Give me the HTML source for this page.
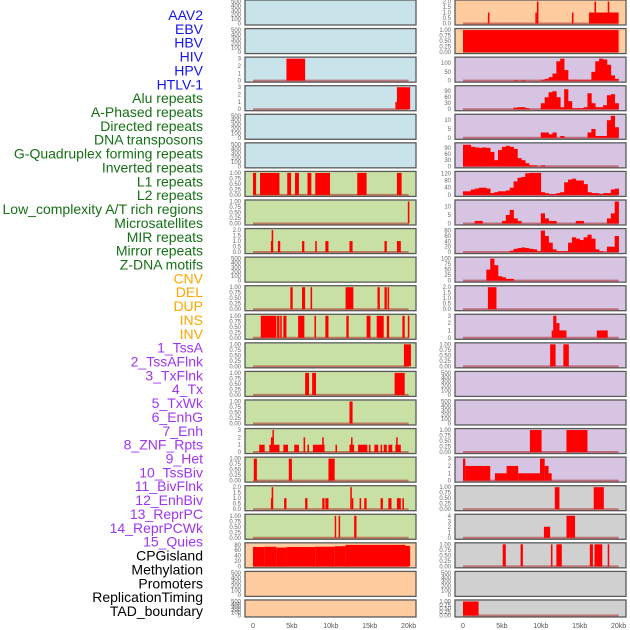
<!DOCTYPE html>
<html><head><meta charset="utf-8"><style>
html,body{margin:0;padding:0;background:#fff;width:630px;height:630px;overflow:hidden}
svg{display:block}
</style></head><body>
<svg id="chart" width="630" height="630" font-family="Liberation Sans, sans-serif"></svg>
<script>
const trackLabels=["AAV2","EBV","HBV","HIV","HPV","HTLV-1","Alu repeats","A-Phased repeats","Directed repeats","DNA transposons","G-Quadruplex forming repeats","Inverted repeats","L1 repeats","L2 repeats","Low_complexity A/T rich regions","Microsatellites","MIR repeats","Mirror repeats","Z-DNA motifs","CNV","DEL","DUP","INS","INV","1_TssA","2_TssAFlnk","3_TxFlnk","4_Tx","5_TxWk","6_EnhG","7_Enh","8_ZNF_Rpts","9_Het","10_TssBiv","11_BivFlnk","12_EnhBiv","13_ReprPC","14_ReprPCWk","15_Quies","CPGisland","Methylation","Promoters","ReplicationTiming","TAD_boundary"];
const labelGroups=[6,13,5,15,5];
const groupColors=["#1515ee","#157015","#ffa500","#a035f0","#000"];
const xTicks=[0,5,10,15,20];
const xTickLabels=["0","5kb","10kb","15kb","20kb"];
const T500=["0","100","200","300","400","500"];
const T1=["0.00","0.25","0.50","0.75","1.00"];
const T2=["0.0","0.5","1.0","1.5","2.0"];
const T3=["0","1","2","3"];
// left column
const leftBg=["b","b","b","b","b","b","g","g","g","g","g","g","g","g","g","g","g","g","g","o","o","o"];
const leftMax=[500,500,3,3,500,500,1,1,2,500,1,1,1,1,1,3,1,2,1,82,500,500];
const leftTicks=[T500,T500,T3,T3,T500,T500,T1,T1,T2,T500,T1,T1,T1,T1,T1,T3,T1,T2,T1,["0","20","40","60","80"],T500,T500];
const leftSegs=[[],[],[[4.3,6.7,3]],[[18.3,18.5,1],[18.5,20.2,3]],[],[],
[[0,0.4,1],[0.9,3.4,1],[4.4,4.9,1],[5.4,5.9,1],[7.0,7.5,1],[8.0,9.9,1],[13.4,14.6,1],[18.5,19.1,1]],
[[19.9,20.1,1]],
[[2.3,2.4,1],[2.4,2.6,2],[3.2,3.5,1],[6.3,6.6,1],[8.0,8.2,1],[9.3,9.7,1],[12.4,12.8,1],[16.9,17.2,1],[18.5,19.0,1]],
[],
[[4.8,5.1,1],[6.3,6.7,1],[7.4,7.6,1],[11.9,12.9,1],[16.0,16.3,1],[16.9,17.2,1],[17.3,17.5,1]],
[[1.0,3.0,1],[3.1,3.4,1],[3.5,3.7,1],[3.9,4.3,1],[5.8,6.6,1],[7.9,8.1,1],[9.3,9.7,1],[12.0,12.3,1],[14.6,15.1,1],[15.9,16.8,1],[17.2,17.5,1],[19.2,19.5,1],[19.9,20.1,1]],
[[19.4,20.3,1]],
[[6.7,7.2,1],[7.6,8.1,1],[18.2,19.5,1]],
[[12.4,12.8,1]],
[[0.8,1.5,1],[2.1,3.4,1],[2.3,2.5,2],[2.5,2.6,3],[3.9,4.5,1],[5.3,5.9,1],[6.5,6.7,2],[7.0,7.2,1],[7.7,9.2,1],[8.9,9.1,2],[10.6,10.8,1],[12.4,13.0,1],[12.6,12.7,2],[13.5,14.7,1],[14.9,15.1,1],[15.6,16.1,1],[16.4,16.6,1],[16.8,17.2,1],[17.4,17.9,1],[18.3,19.0,1],[18.4,18.6,2]],
[[0.1,0.5,1],[4.6,5.0,1],[9.7,10.5,1]],
[[2.3,2.4,1],[2.4,2.6,2],[4.0,4.3,1],[6.7,7.0,1],[8.9,9.2,1],[9.3,9.7,1],[12.5,12.7,2],[12.7,12.9,1],[13.7,13.9,1],[14.3,14.6,1],[16.4,16.7,1],[17.4,17.8,1],[18.5,19.0,1],[19.2,19.4,1]],
[[10.5,10.6,1],[11.0,11.2,1],[13.0,13.3,1]],
[[0,1.5,72],[1.5,3,73],[3,4.3,70],[4.3,8,72],[8,10.5,73],[10.5,11.9,75],[11.9,19.6,80],[19.6,20.2,76]],
[],[]];
// right column
const rightBg=["o","o","p","p","p","p","p","p","p","p","p","p","p","p","p","p","p","y","y","y","y","y"];
const rightMax=[2,1,125,110,12.5,107,122,13,82,100,2,3,1,500,500,1,3,1,4,1,500,1];
const rightTicks=[T2,T1,["0","50","100"],["0","30","60","90"],["0","5","10"],["0","30","60","90"],["0","40","80","120"],["0","5","10"],["0","20","40","60","80"],["0","25","50","75","100"],T2,T3,T1,T500,T500,T1,T3,T1,["0","1","2","3","4"],T1,T500,T1];
const rightSegs=[
[[3.2,3.4,1],[9.3,9.5,1],[9.5,9.7,2],[14.0,14.2,1],[16.2,20,1],[16.9,17.1,2],[18.6,18.8,2]],
[[0,20,1]],[],[],[],[],[],[],[],[],
[[3.2,4.3,2]],
[[11.4,11.6,1],[11.6,12.0,3],[12.0,12.4,2],[12.4,13.3,1],[17.2,18.6,1]],
[[11.2,11.9,1],[12.9,13.6,1]],
[],[],
[[8.6,10.1,1],[13.3,16.0,1]],
[[0,0.3,3],[0.3,3.5,2],[4.1,5.6,1],[5.6,7.1,2],[7.1,9.9,1],[9.9,10.5,3],[10.5,11.0,2],[11.0,11.4,1]],
[[11.8,12.4,1],[16.8,18.1,1]],
[[10.4,11.2,2],[13.3,14.4,4]],
[[5.1,5.5,1],[7.4,7.7,1],[11.3,11.5,1],[12.0,12.7,1],[16.3,16.7,1],[16.9,17.9,1],[18.6,18.8,1]],
[],
[[0,2.0,1]]];
// histogram bins (0.5kb each, 40 bins) for right-column coverage tracks
const binsR2=[0,0,0,0,0,0,0,0,0,0,0,0,0,3,0,3,0,0,0,0,5,10,20,40,110,125,60,5,5,5,5,5,5,50,110,130,120,90,30,10];
const binsR3=[0,0,0,0,0,0,0,0,0,0,0,0,0,8,10,10,5,0,0,0,30,60,85,90,60,10,100,40,5,5,5,10,80,30,10,10,20,70,75,30];
const binsR4=[0,0,0,0,0,0,0,0,0,0,0,0,0,0,0,0,0,0,0,0,3,3,2,3,0,1,0,0,0,0,0,0,3,5,1,1,1,10,13,6];
const binsR5=[105,105,95,92,90,92,90,70,30,80,95,100,95,85,40,30,15,5,5,0,5,0,0,0,0,0,0,0,0,0,0,0,0,0,0,0,0,0,0,0];
const binsR6=[20,20,30,35,40,40,35,10,15,20,20,25,40,75,95,100,120,128,130,128,15,10,5,5,10,15,70,85,90,80,80,60,15,10,10,5,10,10,30,35];
const binsR7=[0,0,0,1.5,1.5,0,0,0,0,0,1.5,5,8,3,1.5,0,0,0,0,0,6,3,1.5,1.5,0,0,0,0,0,1.5,1.5,0,0,0,0,0,0,3,6,13];
const binsR8=[0,0,0,0,0,0,0,0,0,0,0,0,5,12,15,17,15,12,10,3,80,60,35,10,3,3,3,35,55,50,45,55,65,50,10,3,0,20,20,60];
const binsR9=[0,0,0,0,0,0,50,100,70,20,15,8,8,0,0,0,0,0,0,0,0,0,0,0,0,0,0,0,0,0,0,0,0,0,0,0,0,0,0,0];
const rightBins={2:binsR2,3:binsR3,4:binsR4,5:binsR5,6:binsR6,7:binsR7,8:binsR8,9:binsR9};

const NS="http://www.w3.org/2000/svg";
const svg=document.getElementById("chart");
const bgCol={b:"#c9e3ea",g:"#c9e0a5",o:"#fecc9e",p:"#d6c4e2",y:"#d0d0d0"};
function mk(tag,attrs,parent){const e=document.createElementNS(NS,tag);for(const k in attrs)e.setAttribute(k,attrs[k]);(parent||svg).appendChild(e);return e;}
function rowTop(i){return i*28.57;}
function rowH(i){return i===21?17:25;}
function xScale(col,kb){const x0=col===0?253:463;return x0+kb*7.78;}
function yScale(i,v,max){const t=rowTop(i),h=rowH(i);const vv=Math.min(v,max);return t+h-1.5-(vv/max)*(h-3);}

// labels
let li=0;
labelGroups.forEach((n,g)=>{for(let k=0;k<n;k++){const y=15+li*13.86+5;
const t=mk("text",{x:203,y:y,"text-anchor":"end","font-size":"14",fill:groupColors[g]});
t.textContent=trackLabels[li];


li++;}});

function drawPanel(col,i,bg,max,ticks,segs,bins){
  const px=col===0?245:455,pw=171,t=rowTop(i),h=rowH(i);
  const g=mk("g",{});
  
  
  mk("rect",{x:px,y:t,width:pw,height:h,fill:bgCol[bg],stroke:"#5a5a5a","stroke-width":1.3},g);
  ticks.forEach(s=>{const v=parseFloat(s);const y=yScale(i,v,max);
    const tx=mk("text",{x:px-4,y:y+2,"text-anchor":"end","font-size":"6",fill:"#666"},g);tx.textContent=s;
    
    });
  const hasData=(segs&&segs.length)||bins;
  if(!hasData)return;
  mk("line",{x1:xScale(col,0),x2:xScale(col,20),y1:yScale(i,0,max),y2:yScale(i,0,max),stroke:"rgba(170,40,40,0.55)","stroke-width":2},g);
  const y0=yScale(i,0,max);
  if(bins){bins.forEach((v,b)=>{if(v<=0)return;const y=yScale(i,v,max);
    const r=mk("rect",{x:xScale(col,b*0.5),y:y,width:xScale(col,0.5)-xScale(col,0)+0.3,height:y0-y,fill:"#ff0000"},g);
    
    });}
  (segs||[]).forEach(s=>{const y=yScale(i,s[2],max);const x1=xScale(col,s[0]),x2=xScale(col,s[1]);
    const r=mk("rect",{x:x1,y:y,width:Math.max(1.5,x2-x1),height:y0-y,fill:"#ff0000"},g);
    
    });
}
for(let i=0;i<22;i++){
  drawPanel(0,i,leftBg[i],leftMax[i],leftTicks[i],leftSegs[i],null);
  drawPanel(1,i,rightBg[i],rightMax[i],rightTicks[i],rightSegs[i],rightBins[i]||null);
}
[0,1].forEach(col=>{xTicks.forEach((k,j)=>{const t=mk("text",{x:xScale(col,k),y:628,"text-anchor":"middle","font-size":"7",fill:"#555"});
t.textContent=xTickLabels[j];

});});
</script>
</body></html>
